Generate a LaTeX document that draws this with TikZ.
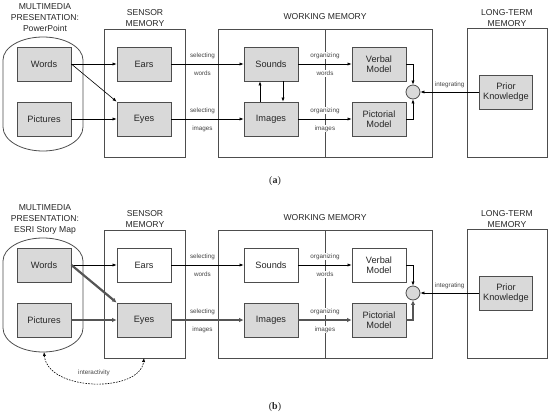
\documentclass[tikz,border=0pt]{standalone}
\usepackage{fontspec}
\setmainfont{Liberation Sans}
\newfontfamily\capfont{Liberation Serif}
\usetikzlibrary{arrows.meta}
\definecolor{boxgray}{HTML}{D9D9D9}
\definecolor{edge}{HTML}{4D4D4D}
\definecolor{ink}{HTML}{262626}
\definecolor{thkdark}{HTML}{555555}
\definecolor{labink}{HTML}{444444}
\begin{document}
\begin{tikzpicture}[x=1pt,y=-1pt,
  every node/.style={text=ink},
  box/.style={draw=edge, line width=0.8pt, minimum width=54pt, minimum height=34pt, inner sep=1pt, align=center, font=\fontsize{9.2}{10.5}\selectfont},
  gbox/.style={box, fill=boxgray},
  wbox/.style={box, fill=white},
  frame/.style={draw=edge, line width=0.8pt},
  ttl/.style={align=center, font=\fontsize{8.6}{11}\selectfont},
  lab/.style={font=\fontsize{6.3}{7}\selectfont, text=labink, fill=white, inner sep=0.8pt},
  labup/.style={lab, yshift=8.5pt},
  labdn/.style={lab, yshift=-9.5pt},
  arr/.style={draw=black, line width=0.6pt, -{Latex[length=4pt,width=3.2pt]}},
  thk/.style={draw=thkdark, line width=2.2pt, -{Latex[length=4.5pt,width=4.5pt]}},
  sumc/.style={circle, draw=edge, line width=0.8pt, fill=boxgray, minimum size=14pt, inner sep=0pt},
  dasharr/.style={draw=black, line width=0.6pt, dash pattern=on 1.6pt off 1.2pt, {Latex[length=4pt,width=3.2pt]}-{Latex[length=4pt,width=3.2pt]}},
  captxt/.style={font=\capfont\fontsize{10}{12}\selectfont}
]
\useasboundingbox (0,0) rectangle (550,416);

% ---------------- panel (a) ----------------
\begin{scope}[name prefix=a-]
\node[ttl] (mmt) at (45,18) {MULTIMEDIA\\PRESENTATION:\\PowerPoint};
\node[ttl] (smt) at (145,18) {SENSOR\\MEMORY};
\node[ttl] (wmt) at (325,17) {WORKING MEMORY};
\node[ttl] (ltt) at (507,18) {LONG-TERM\\MEMORY};
\draw[frame] (3,60) arc[start angle=180,end angle=360,x radius=40,y radius=23] -- (83,127)
  arc[start angle=0,end angle=180,x radius=40,y radius=24] -- cycle;
\draw[frame] (104,29) rectangle (185,157);
\draw[frame] (218,29) rectangle (432,157);
\draw[frame] (467,28) rectangle (547,157);
\draw[frame] (325,29) -- (325,157);
\node[gbox] (words) at (44,64) {Words};
\node[gbox] (pics) at (44,119) {Pictures};
\node[gbox] (ears) at (144,64) {Ears};
\node[gbox] (eyes) at (144,119) {Eyes};
\node[gbox] (sounds) at (271,64) {Sounds};
\node[gbox] (images) at (271,119) {Images};
\node[gbox] (verbal) at (379,64) {Verbal\\Model};
\node[gbox] (pict) at (379,119) {Pictorial\\Model};
\node[sumc] (sum) at (413,92) {};
\node[gbox, minimum width=53pt] (prior) at (506,92) {Prior\\Knowledge};
\draw[arr] (words.east) -- (ears.west);
\draw[arr] (words.east) -- (eyes.north west);
\draw[arr] (pics.east) -- (eyes.west);
\draw[arr] (ears.east) -- node[labup, pos=.43]{selecting} node[labdn, pos=.43]{words} (sounds.west);
\draw[arr] (eyes.east) -- node[labup, pos=.43]{selecting} node[labdn, pos=.43]{images} (images.west);
\draw[arr] ([xshift=-11pt]images.north) -- ([xshift=-11pt]sounds.south);
\draw[arr] ([xshift=12pt]sounds.south) -- ([xshift=12pt]images.north);
\draw[arr] (sounds.east) -- node[labup]{organizing} node[labdn]{words} (verbal.west);
\draw[arr] (images.east) -- node[labup]{organizing} node[labdn]{images} (pict.west);
\draw[arr] (verbal.east) -| (sum.north);
\draw[arr] (pict.east) -| (sum.south);
\draw[arr] (prior.west) -- node[lab, yshift=7pt]{integrating} (sum.east);
\node[captxt] (capa) at (275,181) {(\textbf{a})};
\end{scope}

% ---------------- panel (b) ----------------
\begin{scope}[name prefix=b-, shift={(0,201)}]
\node[ttl] (mmt) at (45,18) {MULTIMEDIA\\PRESENTATION:\\ESRI Story Map};
\node[ttl] (smt) at (145,18) {SENSOR\\MEMORY};
\node[ttl] (wmt) at (325,17) {WORKING MEMORY};
\node[ttl] (ltt) at (507,18) {LONG-TERM\\MEMORY};
\draw[frame] (3,60) arc[start angle=180,end angle=360,x radius=40,y radius=23] -- (83,127)
  arc[start angle=0,end angle=180,x radius=40,y radius=24] -- cycle;
\draw[frame] (104,29) rectangle (185,157);
\draw[frame] (218,29) rectangle (432,157);
\draw[frame] (467,28) rectangle (547,157);
\draw[frame] (325,29) -- (325,157);
\node[gbox] (words) at (44,64) {Words};
\node[gbox] (pics) at (44,119) {Pictures};
\node[wbox] (ears) at (144,64) {Ears};
\node[gbox] (eyes) at (144,119) {Eyes};
\node[wbox] (sounds) at (271,64) {Sounds};
\node[gbox] (images) at (271,119) {Images};
\node[wbox] (verbal) at (379,64) {Verbal\\Model};
\node[gbox] (pict) at (379,119) {Pictorial\\Model};
\node[sumc] (sum) at (413,92) {};
\node[gbox, minimum width=53pt] (prior) at (506,92) {Prior\\Knowledge};
\draw[arr] (words.east) -- (ears.west);
\draw[thk] (words.east) -- (eyes.north west);
\draw[thk] (pics.east) -- (eyes.west);
\draw[arr] (ears.east) -- node[labup, pos=.43]{selecting} node[labdn, pos=.43]{words} (sounds.west);
\draw[thk] (eyes.east) -- node[labup, pos=.43]{selecting} node[labdn, pos=.43]{images} (images.west);
\draw[arr] (sounds.east) -- node[labup]{organizing} node[labdn]{words} (verbal.west);
\draw[thk] (images.east) -- node[labup]{organizing} node[labdn]{images} (pict.west);
\draw[arr] (verbal.east) -| (sum.north);
\draw[thk] (pict.east) -| (sum.south);
\draw[arr] (prior.west) -- node[lab, yshift=7pt]{integrating} (sum.east);
\coordinate (ia) at (44,151);
\coordinate (ib) at (144,157);
\draw[dasharr] (ia) .. controls (48,191) and (140,192) .. (ib);
\node[lab] (ilab) at (94,172) {interactivity};
\node[captxt] (capb) at (275,206) {(\textbf{b})};
\end{scope}
\end{tikzpicture}
\end{document}
